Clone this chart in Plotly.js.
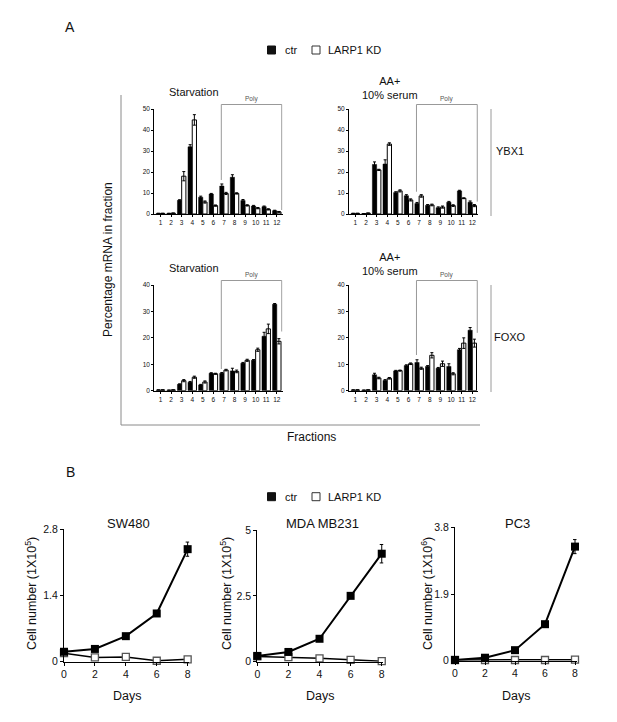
<!DOCTYPE html>
<html>
<head>
<meta charset="utf-8">
<script src="https://cdn.plot.ly/plotly-3.0.1.min.js"></script>
<style>
  html, body { margin: 0; padding: 0; background: #fff; }
  #chart { width: 617px; height: 722px; }
</style>
</head>
<body>
<div id="chart"></div>
<script>
// Panel A - % mRNA per polysome fraction
const fractions = [1, 2, 3, 4, 5, 6, 7, 8, 9, 10, 11, 12];

const ybxStarvCtr    = [0.3, 0.3, 6.5, 32, 8, 9.5, 13.3, 17.5, 6.4, 3.8, 3.5, 1.6];
const ybxStarvCtrErr = [0, 0, 0.3, 1, 0.5, 0.3, 1, 1.2, 0.5, 0.3, 0.3, 0.2];
const ybxStarvKd     = [0.3, 0.4, 18, 44.8, 5.7, 4, 9.8, 9.8, 4.1, 2.8, 2.2, 1];
const ybxStarvKdErr  = [0, 0, 2.2, 2.5, 0.5, 0.3, 0.5, 0.3, 0.3, 0.3, 0.3, 0.2];

const ybxSerumCtr    = [0.3, 0.2, 23.6, 23.8, 10.2, 8.7, 5, 4.1, 3, 5.6, 11, 5.6];
const ybxSerumCtrErr = [0, 0, 1.2, 2, 0.4, 0.5, 0.5, 0.4, 0.4, 0.4, 0.3, 0.6];
const ybxSerumKd     = [0.3, 0.4, 21, 33.3, 11, 6.7, 8.6, 4.3, 3.3, 4, 7.5, 4];
const ybxSerumKdErr  = [0, 0, 0.3, 0.6, 0.5, 0.5, 0.6, 0.4, 0.5, 0.4, 0.2, 0.5];

const foxoStarvCtr    = [0.3, 0.2, 2.4, 3.2, 2.2, 6.6, 6.6, 7.5, 10.4, 11.5, 20.6, 32.7];
const foxoStarvCtrErr = [0, 0, 0.2, 0.3, 0.2, 0.2, 0.3, 1, 0.3, 0.3, 1.5, 0.3];
const foxoStarvKd     = [0.3, 0.3, 3.8, 5.1, 3.3, 6.4, 7.8, 7.3, 11.5, 15.5, 23.4, 18.7];
const foxoStarvKdErr  = [0, 0, 0.4, 0.4, 0.4, 0.2, 0.3, 0.5, 0.4, 0.6, 1.8, 1];

const foxoSerumCtr    = [0.3, 0.2, 6, 3.9, 7.5, 9.5, 10.7, 9.2, 8.5, 9.2, 15.5, 22.9];
const foxoSerumCtrErr = [0, 0, 0.6, 0.3, 0.2, 0.3, 1, 0.3, 0.3, 1, 0.5, 1];
const foxoSerumKd     = [0.3, 0.3, 4.8, 4.7, 7.6, 10.2, 8.5, 13.4, 10.2, 6.4, 18, 18];
const foxoSerumKdErr  = [0, 0, 0.3, 0.3, 0.2, 0.3, 0.4, 1, 1, 0.4, 2, 1.5];

// Poly bracket: fraction span, bracket ends (data units)
const polySpan = [6.75, 12.47];
const polyEnds = [[16.2, 1.9], [10.6, 5.9], [8.2, 22.4], [13.5, 21.9]];

// Panel B - growth curves
const days = [0, 2, 4, 6, 8];
const sw480Ctr    = [0.21, 0.27, 0.54, 1.02, 2.38];
const sw480CtrErr = [0.03, 0.03, 0.03, 0.04, 0.15];
const sw480Kd     = [0.18, 0.09, 0.1, 0.02, 0.05];
const mdaCtr      = [0.22, 0.37, 0.87, 2.5, 4.1];
const mdaCtrErr   = [0.03, 0.05, 0.05, 0.06, 0.35];
const mdaKd       = [0.2, 0.17, 0.13, 0.07, 0.02];
const pc3Ctr      = [0.02, 0.085, 0.3, 1.04, 3.25];
const pc3CtrErr   = [0.02, 0.02, 0.03, 0.04, 0.2];
const pc3Kd       = [0.02, 0.02, 0.02, 0.02, 0.03];

const FONT = 'Liberation Sans, Arial, sans-serif';
const W = 617, H = 722;
const px = v => v / W;
const py = v => 1 - v / H;

// subplot frames in pixels
const aFrames = [
    { x0: 154.2, x1: 282.6, yTop: 109, yBot: 214, ymax: 50, title: 'Starvation' },
    { x0: 349.0, x1: 478.1, yTop: 109, yBot: 214, ymax: 50, title: 'AA+<br>10% serum' },
    { x0: 154.2, x1: 282.6, yTop: 285, yBot: 390.7, ymax: 40, title: 'Starvation' },
    { x0: 349.0, x1: 478.1, yTop: 285, yBot: 390.7, ymax: 40, title: 'AA+<br>10% serum' }
];
const aXRange = [0.4, 12.55];

const bFrames = [
    { x0: 64, x1: 189.2, yTop: 529.3, yBot: 661.7, ymax: 2.8, title: 'SW480', unit: '5', labelX: 31 },
    { x0: 257.3, x1: 383.3, yTop: 530, yBot: 661.7, ymax: 5, title: 'MDA MB231', unit: '5', labelX: 226 },
    { x0: 455, x1: 576.5, yTop: 527.3, yBot: 660.7, ymax: 3.8, title: 'PC3', unit: '6', labelX: 427 }
];
const bXRange = [0, 8.1];

const aSets = [
    [ybxStarvCtr, ybxStarvCtrErr, ybxStarvKd, ybxStarvKdErr],
    [ybxSerumCtr, ybxSerumCtrErr, ybxSerumKd, ybxSerumKdErr],
    [foxoStarvCtr, foxoStarvCtrErr, foxoStarvKd, foxoStarvKdErr],
    [foxoSerumCtr, foxoSerumCtrErr, foxoSerumKd, foxoSerumKdErr]
];
const bSets = [
    [sw480Ctr, sw480CtrErr, sw480Kd],
    [mdaCtr, mdaCtrErr, mdaKd],
    [pc3Ctr, pc3CtrErr, pc3Kd]
];

const traces = [];
const layout = {
    width: W, height: H,
    margin: { l: 0, r: 0, t: 0, b: 0 },
    paper_bgcolor: '#fff', plot_bgcolor: 'rgba(0,0,0,0)',
    showlegend: false,
    barmode: 'group', bargap: 0.2, bargroupgap: 0,
    font: { family: FONT, color: '#111' },
    shapes: [], annotations: []
};

function axisId(n) { return n === 1 ? '' : String(n); }

// small text helper
function note(x, y, text, size, extra) {
    layout.annotations.push(Object.assign({
        xref: 'paper', yref: 'paper', x: px(x), y: py(y), text: text,
        showarrow: false, xanchor: 'center', yanchor: 'middle',
        font: { family: FONT, size: size, color: '#111' }
    }, extra || {}));
}
function line(x0, y0, x1, y1, color) {
    layout.shapes.push({
        type: 'line', xref: 'paper', yref: 'paper',
        x0: px(x0), y0: py(y0), x1: px(x1), y1: py(y1),
        line: { color: color, width: 1 }
    });
}

// Panel A bar charts
aFrames.forEach((f, i) => {
    const n = i + 1, id = axisId(n);
    const [ctr, ctrErr, kd, kdErr] = aSets[i];
    traces.push({
        type: 'bar', x: fractions, y: ctr, xaxis: 'x' + id, yaxis: 'y' + id,
        marker: { color: '#000', line: { color: '#000', width: 0.5 } },
        error_y: { type: 'data', array: ctrErr, color: '#000', thickness: 1, width: 1.5 },
        hoverinfo: 'y'
    });
    traces.push({
        type: 'bar', x: fractions, y: kd, xaxis: 'x' + id, yaxis: 'y' + id,
        marker: { color: '#fff', line: { color: '#000', width: 1 } },
        error_y: { type: 'data', array: kdErr, color: '#000', thickness: 1, width: 1.5 },
        hoverinfo: 'y'
    });
    layout['xaxis' + id] = {
        domain: [px(f.x0), px(f.x1)], anchor: 'y' + id, range: aXRange,
        tickvals: fractions, ticks: 'outside', ticklen: 2, tickwidth: 1, tickcolor: '#000',
        showline: true, linecolor: '#000', linewidth: 1, showgrid: false, zeroline: false,
        tickfont: { family: FONT, size: 6.5, color: '#111' }, fixedrange: true
    };
    layout['yaxis' + id] = {
        domain: [py(f.yBot), py(f.yTop)], anchor: 'x' + id, range: [0, f.ymax],
        dtick: 10, ticks: 'outside', ticklen: 2, tickwidth: 1, tickcolor: '#000',
        showline: true, linecolor: '#000', linewidth: 1, showgrid: false, zeroline: false,
        tickfont: { family: FONT, size: 6.5, color: '#111' }, fixedrange: true
    };

    // Poly bracket (x in data, y converted to paper)
    const toPaper = v => py(f.yBot) + (v / f.ymax) * (py(f.yTop) - py(f.yBot));
    const top = py(f.yTop - 4.5);
    const [endL, endR] = polyEnds[i];
    layout.shapes.push({
        type: 'path', xref: 'x' + id, yref: 'paper',
        path: `M${polySpan[0]},${toPaper(endL)} L${polySpan[0]},${top} L${polySpan[1]},${top} L${polySpan[1]},${toPaper(endR)}`,
        line: { color: '#999', width: 1 }
    });
    layout.annotations.push({
        xref: 'x' + id, yref: 'paper', x: (polySpan[0] + polySpan[1]) / 2, y: top,
        yanchor: 'bottom', text: 'Poly', showarrow: false,
        font: { family: FONT, size: 6.5, color: '#555' }
    });

    // subplot title
    const twoLines = f.title.indexOf('<br>') >= 0;
    note((f.x0 + f.x1) / 2 - 24, twoLines ? f.yTop - 21 : f.yTop - 17, f.title, 11);
});

// Panel A frame and labels
line(121, 95, 121, 425, '#8a8a8a');
line(121, 425, 480, 425, '#8a8a8a');
line(491, 109, 491, 216, '#9a9a9a');
line(491, 285, 491, 392, '#9a9a9a');
note(510, 151, 'YBX1', 11);
note(510, 337, 'FOXO', 11);
note(312, 437, 'Fractions', 12);
note(108, 260, 'Percentage mRNA in fraction', 12, { textangle: -90 });
note(70, 27, 'A', 14);

// legends (A and B)
function legend(yc) {
    layout.shapes.push({ type: 'rect', xref: 'paper', yref: 'paper',
        x0: px(267.5), x1: px(275.5), y0: py(yc + 4), y1: py(yc - 4),
        fillcolor: '#111', line: { color: '#111', width: 1 } });
    layout.shapes.push({ type: 'rect', xref: 'paper', yref: 'paper',
        x0: px(312), x1: px(320), y0: py(yc + 4), y1: py(yc - 4),
        fillcolor: '#fff', line: { color: '#333', width: 1 } });
    note(282.5, yc, 'ctr', 11, { xanchor: 'left' });
    note(325.5, yc, 'LARP1 KD', 11, { xanchor: 'left' });
}
legend(50);
legend(496.7);

// Panel B growth curves
bFrames.forEach((f, i) => {
    const n = i + 5, id = axisId(n);
    const [ctr, ctrErr, kd] = bSets[i];
    traces.push({
        type: 'scatter', mode: 'lines+markers', x: days, y: kd,
        xaxis: 'x' + id, yaxis: 'y' + id, cliponaxis: false,
        line: { color: '#000', width: 1.5 },
        marker: { symbol: 'square', size: 7, color: '#fff', line: { color: '#555', width: 1.3 } }
    });
    traces.push({
        type: 'scatter', mode: 'lines+markers', x: days, y: ctr,
        xaxis: 'x' + id, yaxis: 'y' + id, cliponaxis: false,
        line: { color: '#000', width: 2 },
        marker: { symbol: 'square', size: 8, color: '#000' },
        error_y: { type: 'data', array: ctrErr, color: '#000', thickness: 1, width: 2 }
    });
    layout['xaxis' + id] = {
        domain: [px(f.x0), px(f.x1)], anchor: 'y' + id, range: bXRange,
        tickvals: days, ticks: 'outside', ticklen: 3, tickwidth: 1, tickcolor: '#000',
        showline: true, linecolor: '#000', linewidth: 1, showgrid: false, zeroline: false,
        tickfont: { family: FONT, size: 10.5, color: '#111' }, fixedrange: true
    };
    layout['yaxis' + id] = {
        domain: [py(f.yBot), py(f.yTop)], anchor: 'x' + id, range: [0, f.ymax],
        tickvals: [0, f.ymax / 2, f.ymax], ticks: 'outside', ticklen: 3, tickwidth: 1, tickcolor: '#000',
        showline: true, linecolor: '#000', linewidth: 1, showgrid: false, zeroline: false,
        tickfont: { family: FONT, size: 10.5, color: '#111' }, fixedrange: true
    };
    note((f.x0 + f.x1) / 2 + 2, 523.3, f.title, 13);
    note((f.x0 + f.x1) / 2, 696, 'Days', 12.5);
    note(f.labelX, 594, 'Cell number (1X10<sup>' + f.unit + '</sup>)', 12.5, { textangle: -90 });
});
note(70, 472, 'B', 14);

Plotly.newPlot('chart', traces, layout, { displayModeBar: false, staticPlot: true });
</script>
</body>
</html>
